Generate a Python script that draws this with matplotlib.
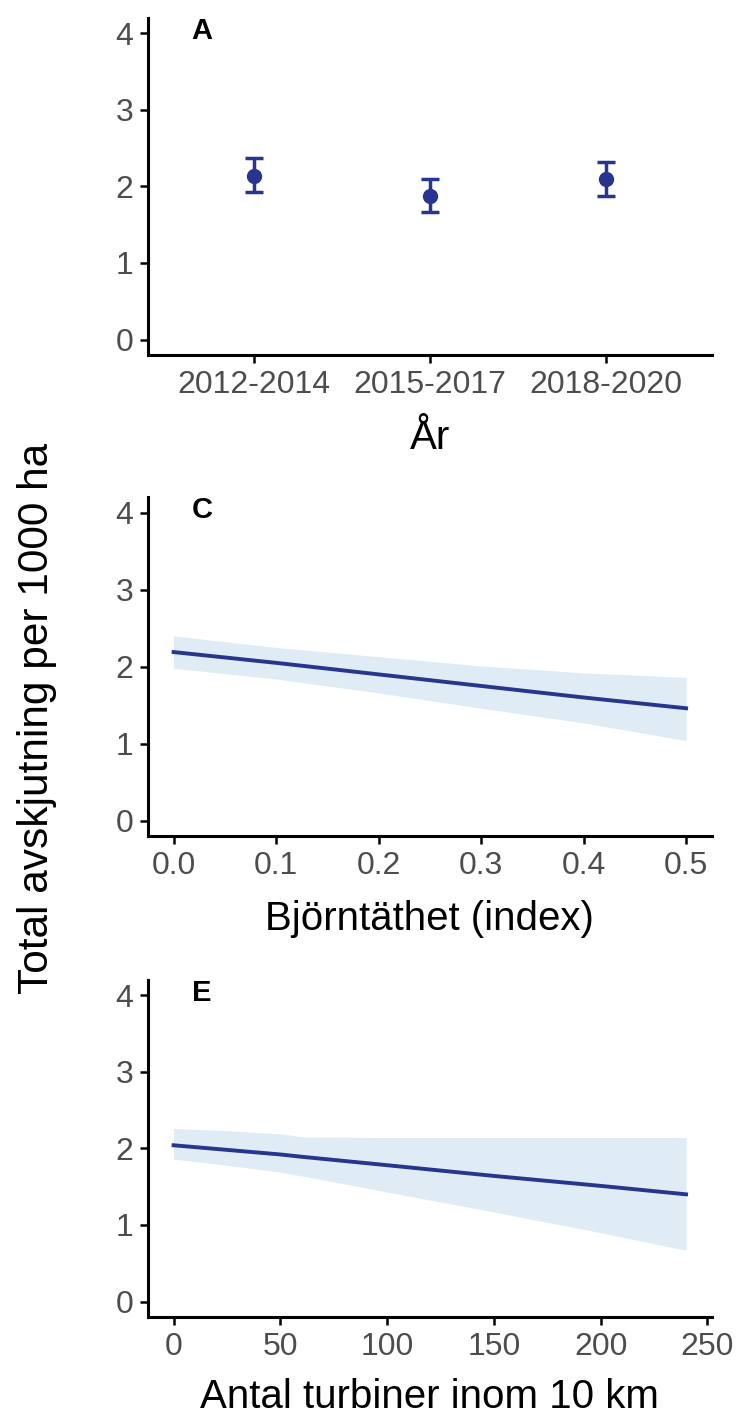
import numpy as np
import matplotlib.pyplot as plt

plt.rcParams['font.family'] = ['Liberation Sans', 'DejaVu Sans']

# A: avskjutning per period
perioder = ["2012-2014", "2015-2017", "2018-2020"]
a_mean = [2.14, 1.88, 2.09]
a_low = [1.93, 1.67, 1.88]
a_high = [2.37, 2.10, 2.32]

# C: björntäthet
c_x = [0.0, 0.1, 0.2, 0.3, 0.4, 0.5]
c_fit = [2.19, 2.05, 1.90, 1.75, 1.60, 1.46]
c_low = [1.98, 1.84, 1.66, 1.46, 1.27, 1.04]
c_high = [2.40, 2.25, 2.13, 2.01, 1.92, 1.86]

# E: vindkraftverk
e_x = [0, 25, 50, 60, 100, 150, 200, 240]
e_fit = [2.04, 1.98, 1.92, 1.89, 1.78, 1.64, 1.51, 1.40]
e_low = [1.86, 1.78, 1.69, 1.64, 1.43, 1.17, 0.90, 0.67]
e_high = [2.26, 2.23, 2.19, 2.15, 2.14, 2.14, 2.14, 2.14]

blue = '#27358f'
band = '#dfebf5'
grey = '#4d4d4d'

fig = plt.figure(figsize=(7.36, 14.17), dpi=100)
left, width, h = 0.201, 0.766, 0.238
ax0 = fig.add_axes([left, 0.7495, width, h])
ax1 = fig.add_axes([left, 0.410, width, h + 0.001])
ax2 = fig.add_axes([left, 0.0706, width, h])

def style(ax, letter):
    for s in ['top', 'right']:
        ax.spines[s].set_visible(False)
    for s in ['left', 'bottom']:
        ax.spines[s].set_linewidth(2.2)
    ax.tick_params(width=1.8, length=5.5, labelsize=23, labelcolor=grey, pad=5)
    ax.set_ylim(-0.2, 4.2)
    ax.set_yticks([0, 1, 2, 3, 4])
    ax.text(0.096, 0.962, letter, transform=ax.transAxes, fontsize=21,
            fontweight='bold', ha='center', va='center')

xpos = np.arange(1, len(perioder) + 1)
yerr = [np.array(a_mean) - np.array(a_low), np.array(a_high) - np.array(a_mean)]
ax0.errorbar(xpos, a_mean, yerr=yerr, fmt='o', color=blue, ms=10,
             capsize=6.5, elinewidth=2.5, capthick=2.5)
ax0.set_xlim(0.4, 3.6)
ax0.set_xticks(xpos)
ax0.set_xticklabels(perioder)
ax0.set_xlabel("År", fontsize=29, labelpad=14)
style(ax0, "A")

ax1.fill_between(c_x, c_low, c_high, color=band, lw=0)
ax1.plot(c_x, c_fit, color=blue, lw=2.8)
ax1.set_xlim(-0.025, 0.525)
ax1.set_xticks([0.0, 0.1, 0.2, 0.3, 0.4, 0.5])
ax1.set_xticklabels(["0.0", "0.1", "0.2", "0.3", "0.4", "0.5"])
ax1.set_xlabel("Björntäthet (index)", fontsize=29, labelpad=14)
style(ax1, "C")

ax2.fill_between(e_x, e_low, e_high, color=band, lw=0)
ax2.plot(e_x, e_fit, color=blue, lw=2.8)
ax2.set_xlim(-12, 252)
ax2.set_xticks([0, 50, 100, 150, 200, 250])
ax2.set_xlabel("Antal turbiner inom 10 km", fontsize=29, labelpad=12)
style(ax2, "E")

fig.text(0.050, 0.493, "Total avskjutning per 1000 ha", rotation=90,
         fontsize=30.5, ha='center', va='center')

fig.savefig("out.png", dpi=100)
